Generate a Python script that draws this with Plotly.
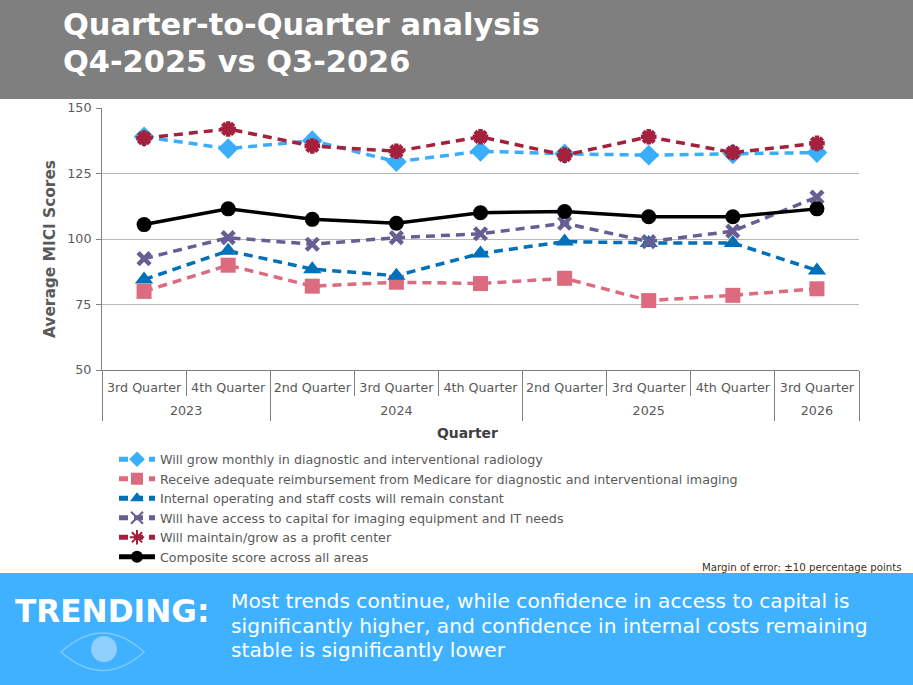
import plotly.graph_objects as go

W, H = 913, 685

years = ["2023", "2023", "2024", "2024", "2024", "2025", "2025", "2025", "2026"]
quarters = ["3rd Quarter", "4th Quarter", "2nd Quarter", "3rd Quarter", "4th Quarter",
            "2nd Quarter", "3rd Quarter", "4th Quarter", "3rd Quarter"]

grow_monthly = [139, 134.5, 137.5, 129.5, 133.5, 132.5, 132, 132.5, 133]
medicare = [80, 90, 82, 83.5, 83, 85, 76.5, 78.5, 81]
internal_costs = [84.5, 95.5, 88.5, 86, 94.5, 99, 98.5, 98.5, 88]
capital_access = [92.5, 100.5, 98, 100.5, 102, 106, 99, 103, 116]
profit_center = [138.5, 142, 135.5, 133.5, 139, 132, 139, 133, 136.5]
composite = [105.5, 111.5, 107.5, 106, 110, 110.5, 108.5, 108.5, 111.5]

title_lines = ["Quarter-to-Quarter analysis", "Q4-2025 vs Q3-2026"]
trend_lines = ["Most trends continue, while confidence in access to capital is",
               "significantly higher, and confidence in internal costs remaining",
               "stable is significantly lower"]

FONT = "DejaVu Sans"
INK = "#595959"
AXIS = "#808080"
DASH = "9px,6px"
LABEL_SIZE = 12.7


def px(x):
    return x / W


def py(y):
    return 1 - y / H


positions = list(range(len(quarters)))
x_range = [-0.5, len(quarters) - 0.5]

# Two-level category axis: quarter cells split by short ticks, year cells by long ones
year_names = sorted(set(years))
year_centers = [sum(i for i in positions if years[i] == y) / years.count(y) for y in year_names]
year_edges = [-0.5] + [i + 0.5 for i in positions if i + 1 == len(years) or years[i + 1] != years[i]]
quarter_edges = [i + 0.5 for i in positions[:-1] if years[i + 1] == years[i]]

series = [
    ("Will grow monthly in diagnostic and interventional radiology", grow_monthly,
     "#3aaefa", dict(symbol="diamond", size=16)),
    ("Receive adequate reimbursement from Medicare for diagnostic and interventional imaging", medicare,
     "#dd6b80", dict(symbol="square", size=15)),
    ("Internal operating and staff costs will remain constant", internal_costs,
     "#0070b8", dict(symbol="triangle-up", size=16)),
    ("Will have access to capital for imaging equipment and IT needs", capital_access,
     "#675e94", dict(symbol="x-thin-open", size=12, line=dict(width=4.5, color="#675e94"))),
    ("Will maintain/grow as a profit center", profit_center,
     "#a3213c", dict(symbol="asterisk-open", size=13, line=dict(width=4.5, color="#a3213c"))),
]

fig = go.Figure()

for name, values, color, marker in series:
    fig.add_trace(go.Scatter(
        x=positions, y=values, name=name, mode="lines+markers",
        line=dict(color=color, width=3.5, dash=DASH),
        marker=dict(color=color, **marker),
    ))

fig.add_trace(go.Scatter(
    x=positions, y=composite, name="Composite score across all areas", mode="lines+markers",
    line=dict(color="#000000", width=3.5),
    marker=dict(color="#000000", symbol="circle", size=15),
))

# Empty trace so the year-level axis gets drawn
fig.add_trace(go.Scatter(
    x=year_centers, y=[None] * len(year_centers), xaxis="x2", mode="markers",
    showlegend=False, hoverinfo="skip",
))

annotations = []
for i, line in enumerate(title_lines):
    annotations.append(dict(
        text=f"<b>{line}</b>", x=px(61), y=py(25 + 36 * i), xref="paper", yref="paper",
        xanchor="left", yanchor="middle", showarrow=False,
        font=dict(family=FONT, size=30.4, color="#ffffff"),
    ))
for i, line in enumerate(trend_lines):
    annotations.append(dict(
        text=line, x=px(229), y=py(601 + 24.5 * i), xref="paper", yref="paper",
        xanchor="left", yanchor="middle", showarrow=False,
        font=dict(family=FONT, size=20.2, color="#ffffff"),
    ))
annotations.append(dict(
    text="<b>TRENDING:</b>", x=px(13), y=py(611), xref="paper", yref="paper",
    xanchor="left", yanchor="middle", showarrow=False,
    font=dict(family=FONT, size=31.2, color="#ffffff"),
))
annotations.append(dict(
    text="Margin of error: ±10 percentage points", x=px(904), y=py(567), xref="paper", yref="paper",
    xanchor="right", yanchor="middle", showarrow=False,
    font=dict(family=FONT, size=10.2, color="#333333"),
))
annotations.append(dict(
    text="<b>Quarter</b>", x=px(467), y=py(433), xref="paper", yref="paper",
    xanchor="center", yanchor="middle", showarrow=False,
    font=dict(family=FONT, size=13.9, color="#404040"),
))
annotations.append(dict(
    text="<b>Average MICI Scores</b>", x=px(50), y=py(249), xref="paper", yref="paper",
    xanchor="center", yanchor="middle", showarrow=False, textangle=-90,
    font=dict(family=FONT, size=15.4, color=INK),
))

# Header and footer bands, plus the eye emblem under the footer heading
shapes = [
    dict(type="rect", xref="paper", yref="paper", x0=0, x1=1, y0=py(99), y1=1,
         fillcolor="#7f7f7f", line_width=0, layer="below"),
    dict(type="rect", xref="paper", yref="paper", x0=0, x1=1, y0=0, y1=py(573),
         fillcolor="#3fb1ff", line_width=0, layer="below"),
    dict(type="path", xref="paper", yref="paper",
         path=f"M {px(61)} {py(652)} Q {px(103)} {py(614)} {px(144)} {py(652)} "
              f"Q {px(103)} {py(689)} {px(61)} {py(652)} Z",
         line=dict(color="#7cc9ff", width=1.6), fillcolor="rgba(0,0,0,0)"),
    dict(type="circle", xref="paper", yref="paper",
         x0=px(91), x1=px(117), y0=py(662), y1=py(636),
         fillcolor="#8fd0ff", line_width=0),
]

fig.update_layout(
    width=W, height=H, autosize=False,
    margin=dict(l=0, r=0, t=0, b=0),
    paper_bgcolor="#ffffff", plot_bgcolor="#ffffff",
    font=dict(family=FONT, size=12, color=INK),
    annotations=annotations, shapes=shapes,
    hovermode=False,
    legend=dict(
        x=px(114), y=py(444.5), xanchor="left", yanchor="top",
        bgcolor="rgba(0,0,0,0)", itemwidth=36, tracegroupgap=0, itemsizing="constant",
        font=dict(family=FONT, size=LABEL_SIZE, color=INK),
    ),
    xaxis=dict(
        domain=[px(102), px(859)], range=x_range,
        tickmode="array", tickvals=positions, ticktext=quarters, ticks="",
        ticklabelstandoff=6,
        minor=dict(ticks="outside", tickmode="array", tickvals=quarter_edges,
                   ticklen=25, tickcolor=AXIS, showgrid=False),
        showgrid=False, zeroline=False, automargin=False,
        showline=True, linecolor=AXIS, linewidth=1,
        tickfont=dict(family=FONT, size=LABEL_SIZE, color=INK),
    ),
    xaxis2=dict(
        domain=[px(102), px(859)], range=x_range, anchor="y", overlaying="x", side="bottom",
        tickmode="array", tickvals=year_centers, ticktext=year_names, ticks="",
        ticklabelstandoff=31,
        minor=dict(ticks="outside", tickmode="array", tickvals=year_edges,
                   ticklen=50, tickcolor=AXIS, showgrid=False),
        showgrid=False, zeroline=False, automargin=False, showline=False,
        tickfont=dict(family=FONT, size=LABEL_SIZE, color=INK),
    ),
    yaxis=dict(
        domain=[py(370), py(108)], range=[50, 150], tickvals=[50, 75, 100, 125, 150],
        showgrid=True, gridcolor="#b8b8b8", gridwidth=1, zeroline=False, automargin=False,
        showline=True, linecolor=AXIS, linewidth=1,
        ticks="outside", ticklen=5, tickcolor=AXIS, ticklabelstandoff=2,
        tickfont=dict(family=FONT, size=LABEL_SIZE, color=INK),
    ),
)

fig.write_html("out.html")
